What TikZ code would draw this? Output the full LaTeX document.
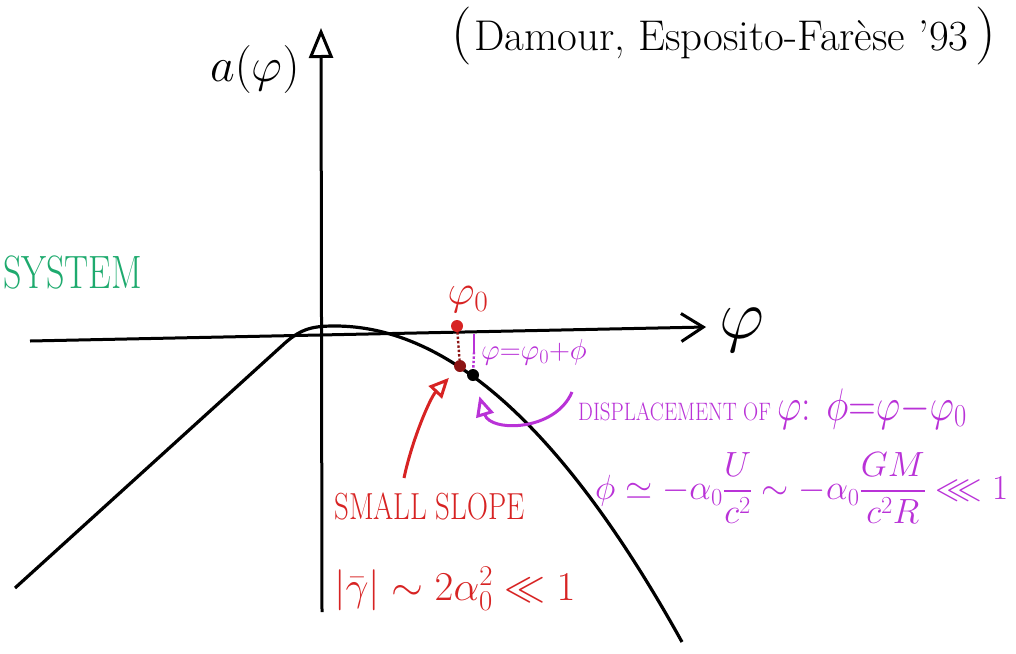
\RequirePackage{fix-cm}
\documentclass[tikz,border=0pt]{standalone}
\usepackage{amsmath,amssymb}
\usepackage{fontspec}
\usetikzlibrary{arrows.meta}
\definecolor{hred}{RGB}{215,35,35}
\definecolor{dred}{RGB}{140,20,20}
\definecolor{hpur}{RGB}{185,50,215}
\definecolor{hgreen}{RGB}{30,170,110}
\newcommand{\fs}[1]{\fontsize{#1}{#1}\selectfont}
\begin{document}
\begin{tikzpicture}[x=1pt,y=-1pt,
  axisline/.style={line width=3pt,black},
  curveline/.style={line width=3.2pt,black},
  dotnode/.style={circle,inner sep=0pt,minimum size=12pt},
  txt/.style={inner sep=0pt},
  pen/.style={line width=3pt}]
\useasboundingbox (0,0) rectangle (1016,653);
% title
\node[txt,anchor=base] (ttl) at (724,50) {{\fs{58}(}\,\fs{43}Damour, Esposito-Farèse '93\,{\fs{58})}};
% axes
\coordinate (ybot) at (322,612);
\coordinate (ytop) at (321,28);
\coordinate (xl) at (30,341);
\coordinate (xr) at (706,327);
\draw[axisline,-{Triangle[open,length=30pt,width=24pt]}] (ybot) -- (ytop);
\draw[axisline,-{Straight Barb[length=22pt,width=28pt]}] (xl) -- (xr);
\node[txt] (alab) at (255,70) {\fs{48}$a(\varphi)$};
\node[txt] (phlab) at (742,330) {\fs{70}$\varphi$};
% curve
\draw[curveline] (15,588) -- (285,343) .. controls (302,328) and (314,326) .. (335,326)
  .. controls (450,326) and (565,431) .. (682,642);
% points
\node[dotnode,fill=hred] (p0) at (457,326) {};
\node[dotnode,fill=dred] (pc) at (460,366) {};
\node[dotnode,fill=black] (pb) at (473,375) {};
\coordinate (pt) at (474,334);
\coordinate (pm) at (474,352);
\draw[dred,line width=2.4pt,dotted] (p0) -- (pc);
\draw[hpur,line width=2.4pt] (pt) -- (pm);
\draw[hpur,line width=2.4pt,dotted] (pm) -- (pb);
\node[txt,hred] (phi0) at (468,300) {\fs{42}$\varphi_0$};
\node[txt,hpur,anchor=west] (peq) at (481,352) {\fs{29}$\varphi{=}\varphi_0{+}\phi$};
% labels
\node[txt,hgreen,anchor=base west,yscale=1.3] (sys) at (3,288) {\fs{36}SYSTEM};
\node[txt,hpur,anchor=base west,yscale=1.2] (disp) at (578,420) {\fs{21}DISPLACEMENT OF \fs{38}$\varphi$: $\phi{=}\varphi{-}\varphi_0$};
\node[txt,hpur,anchor=west] (phieq) at (595,488) {\fs{35}$\phi \simeq -\alpha_0\dfrac{U}{c^2} \sim -\alpha_0\dfrac{GM}{c^2R} \lll 1$};
\node[txt,hred,anchor=base west,yscale=1.3] (slope) at (334,519) {\fs{29}SMALL SLOPE};
\node[txt,hred,anchor=base west] (gam) at (334,600) {\fs{41}$|\bar\gamma|\sim 2\alpha_0^2\ll 1$};
% arrows
\coordinate (rs) at (404,478);
\coordinate (ps) at (572,392);
\draw[hred,pen,-{Triangle[open,length=20pt,width=18pt]},shorten >=10pt] (rs) .. controls (412,440) and (430,398) .. (pc);
\draw[hpur,pen,-{Triangle[open,length=20pt,width=18pt]},shorten >=16pt] (ps) .. controls (555,432) and (490,432) .. (pb);
\end{tikzpicture}
\end{document}
